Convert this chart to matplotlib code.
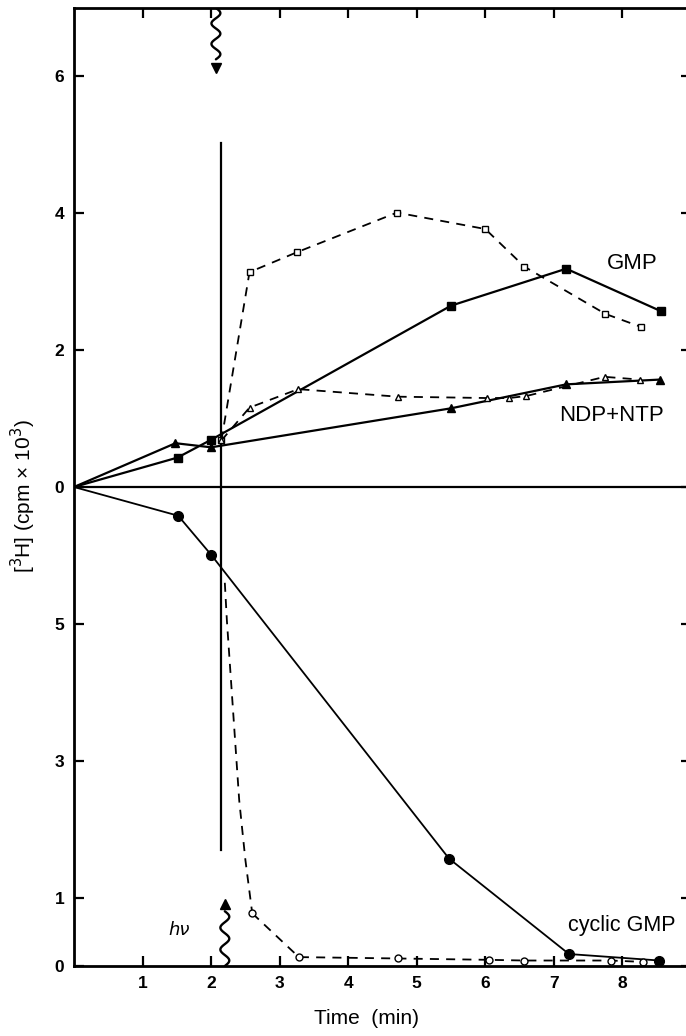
import numpy as np
import matplotlib
matplotlib.use("Agg")
import matplotlib.pyplot as plt

plt.rcParams['font.family'] = ['Liberation Sans', 'DejaVu Sans']

# upper half: values read on the 0..7 scale above the zero line
gmp_t = [0, 1.51, 2.0, 5.5, 7.18, 8.56]
gmp_v = [0, 0.43, 0.69, 2.65, 3.19, 2.57]
gmp_open_t = [2.15, 2.56, 3.25, 4.71, 6.0, 6.57, 7.75, 8.27]
gmp_open_v = [0.68, 3.14, 3.43, 4.01, 3.77, 3.22, 2.53, 2.34]
ntp_t = [0, 1.48, 2.0, 5.5, 7.18, 8.55]
ntp_v = [0, 0.64, 0.58, 1.15, 1.50, 1.57]
ntp_open_t = [2.15, 2.56, 3.27, 4.72, 6.03, 6.35, 6.6, 7.74, 8.25]
ntp_open_v = [0.68, 1.16, 1.43, 1.32, 1.30, 1.30, 1.33, 1.61, 1.57]

# lower half: cyclic GMP, read on the 0..7 scale from the bottom axis
cgmp_t = [0, 1.52, 2.0, 5.47, 7.22, 8.54]
cgmp_v = [7.0, 6.58, 6.01, 1.57, 0.175, 0.08]
cgmp_open_t = [2.6, 3.28, 4.72, 6.06, 6.57, 7.83, 8.3]
cgmp_open_v = [0.77, 0.13, 0.11, 0.09, 0.08, 0.08, 0.06]
# dashed fall-off right after the flash
drop_t = [2.2, 2.23, 2.31, 2.41, 2.5, 2.6]
drop_v = [5.6, 5.05, 3.88, 2.42, 1.55, 0.77]

x_ticks = [1, 2, 3, 4, 5, 6, 7, 8]
y_ticks = [-7, -6, -4, -2, 0, 2, 4, 6]
y_labels = ['0', '1', '3', '5', '0', '2', '4', '6']

OFF = 7.0  # lower scale is shifted down by 7


def low(v):
    return np.array(v) - OFF


def squiggle(ax, xc, y0, y1, amp=0.065, waves=2.5):
    yy = np.linspace(y0, y1, 80)
    xx = xc + amp * np.sin(np.linspace(0, 2 * np.pi * waves, 80))
    ax.plot(xx, yy, color='black', lw=1.7, solid_capstyle='round')


fig = plt.figure(figsize=(6.86, 10.36), dpi=100)
ax = fig.add_axes([74 / 686, 70 / 1036, 617 / 686, 958 / 1036])
ax.set_xlim(0, 9)
ax.set_ylim(-7, 7)

# zero line
ax.axhline(0, color='black', lw=1.6)

# flash marker line
ax.plot([2.15, 2.15], [5.02, -5.31], color='black', lw=1.6)

ms = 6
skip0 = list(range(1, 6))  # no marker on the common origin
ax.plot(gmp_t, gmp_v, '-s', color='black', lw=1.6, ms=ms, markevery=skip0)
ax.plot(gmp_open_t, gmp_open_v, '--s', color='black', lw=1.3, ms=ms - 1,
        mfc='white', dashes=(5, 4))
ax.plot(ntp_t, ntp_v, '-^', color='black', lw=1.6, ms=ms, markevery=skip0)
ax.plot(ntp_open_t, ntp_open_v, '--^', color='black', lw=1.3, ms=ms - 1,
        mfc='white', dashes=(5, 4))
ax.plot(cgmp_t, low(cgmp_v), '-o', color='black', lw=1.3, ms=ms + 1, markevery=skip0)
ax.plot(drop_t, low(drop_v), '--', color='black', lw=1.3, dashes=(5, 4))
ax.plot(cgmp_open_t, low(cgmp_open_v), '--o', color='black', lw=1.3, ms=ms - 1,
        mfc='white', dashes=(5, 4))

# light flash squiggles
squiggle(ax, 2.07, 7.0, 6.25)
ax.plot([2.07], [6.12], marker='v', color='black', ms=7)
squiggle(ax, 2.2, -7.0, -6.2)
ax.plot([2.2], [-6.1], marker='^', color='black', ms=7)
ax.text(1.53, -6.47, 'h\u03bd', fontsize=13, style='italic', ha='center', va='center',
        family=['DejaVu Sans'])

ax.text(8.15, 3.27, 'GMP', fontsize=16, ha='center', va='center')
ax.text(7.84, 1.04, 'NDP+NTP', fontsize=16, ha='center', va='center')
ax.text(7.99, -6.41, 'cyclic GMP', fontsize=15.5, ha='center', va='center')

ax.set_xticks(x_ticks)
ax.set_xticklabels([str(t) for t in x_ticks])
ax.set_yticks(y_ticks)
ax.set_yticklabels(y_labels)
ax.tick_params(direction='in', length=7, width=1.6, top=True, right=True,
               labelsize=12.5, pad=7)
for lab in ax.get_xticklabels() + ax.get_yticklabels():
    lab.set_fontweight('bold')

for s in ax.spines.values():
    s.set_linewidth(2.0)

ax.set_xlabel('Time  (min)', fontsize=15)
ax.xaxis.set_label_coords((366 - 74) / 617, -0.045)
ax.set_ylabel('[$^3$H] (cpm \u00d7 10$^3$)', fontsize=15)
ax.yaxis.set_label_coords(-0.058, 0.49)

fig.savefig('out.png', dpi=100)
